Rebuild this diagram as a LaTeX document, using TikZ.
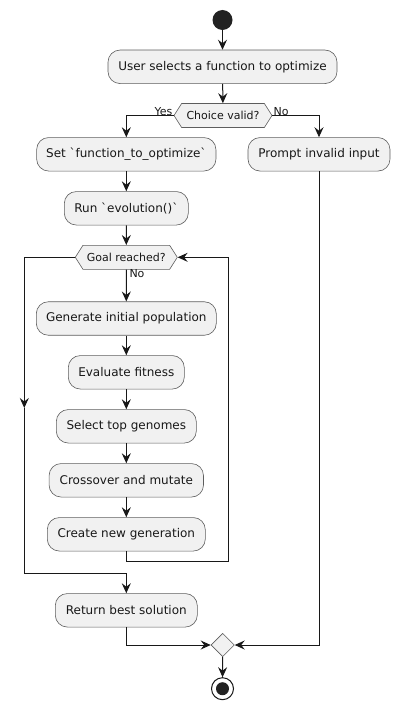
\documentclass[tikz,border=0pt]{standalone}
\usepackage{fontspec}
\setmainfont{DejaVu Sans}
\usetikzlibrary{arrows.meta,shapes.geometric,shapes.symbols}
\definecolor{boxfill}{HTML}{F1F1F1}
\definecolor{ink}{HTML}{181818}
\definecolor{dot}{HTML}{222222}
\tikzset{
  act/.style={draw=ink!70, line width=0.6pt, fill=boxfill, rounded corners=12pt,
    minimum height=33.5pt, inner sep=0pt, font=\fontsize{12}{14}\selectfont, text=ink},
  dec/.style={draw=ink!70, line width=0.6pt, fill=boxfill, shape=signal, signal to=west and east,
    signal pointer angle=115, minimum height=24pt, inner sep=0pt, font=\fontsize{11}{13}\selectfont, text=ink},
  lbl/.style={font=\fontsize{11}{13}\selectfont, text=ink, inner sep=1pt},
  flow/.style={draw=ink, line width=1pt},
  arr/.style={flow, -{Stealth[length=10pt,width=9pt,inset=3.5pt]}},
}
\begin{document}
\begin{tikzpicture}[x=1pt,y=-1pt]
\useasboundingbox (0,0) rectangle (400,709);
\node[circle, fill=dot, minimum size=20pt, inner sep=0pt] (start) at (222.5,20) {};
\node[act, minimum width=229pt] (sel) at (222.5,66.8) {User selects a function to optimize};
\node[dec, minimum width=98pt] (choice) at (223,115.5) {Choice valid?};
\node[act, minimum width=179.3pt] (set) at (126.3,154.3) {Set \textasciigrave function\_to\_optimize\textasciigrave};
\node[act, minimum width=142pt] (prompt) at (319,154.3) {Prompt invalid input};
\node[act, minimum width=124pt] (run) at (126.3,208.3) {Run \textasciigrave evolution()\textasciigrave};
\node[dec, minimum width=102pt] (goal) at (126.3,257.3) {Goal reached?};
\node[act, minimum width=180pt] (gen) at (126.3,318.5) {Generate initial population};
\node[act, minimum width=116pt] (eval) at (126.3,372.3) {Evaluate fitness};
\node[act, minimum width=140pt] (selt) at (126.3,426.3) {Select top genomes};
\node[act, minimum width=154.4pt] (cross) at (126.3,480.3) {Crossover and mutate};
\node[act, minimum width=158pt] (create) at (126.3,534.3) {Create new generation};
\node[act, minimum width=142pt] (ret) at (126.3,610.3) {Return best solution};
\node[diamond, draw=ink!70, line width=0.6pt, fill=boxfill, minimum width=23.4pt, minimum height=23.4pt, inner sep=0pt] (merge) at (222.7,645) {};
\node[circle, draw=ink, line width=1pt, fill=white, minimum size=22pt, inner sep=0pt] (end) at (222.5,688.7) {};
\node[circle, fill=dot, minimum size=13pt, inner sep=0pt] (endin) at (end.center) {};

\node[lbl, anchor=south east] (yes) at ([yshift=-1.5pt]choice.west) {Yes};
\node[lbl, anchor=south west] (no1) at ([yshift=-1.5pt]choice.east) {No};
\node[lbl, anchor=north west] (no2) at ([xshift=2pt,yshift=1pt]goal.south) {No};

\coordinate (lt) at (24.3,257.3);
\coordinate (lmid) at (24.3,408);
\coordinate (lb) at (24.3,573.3);
\coordinate (rb) at (228.3,561);
\coordinate (rmid) at (228.3,413);
\coordinate (rt) at (228.3,257.3);

\draw[arr] (start) -- (sel);
\draw[arr] (sel) -- (choice);
\draw[arr] (choice.west) -| (set.north);
\draw[arr] (choice.east) -| (prompt.north);
\draw[arr] (set) -- (run);
\draw[arr] (run) -- (goal);
\draw[arr] (goal) -- (gen);
\draw[arr] (gen) -- (eval);
\draw[arr] (eval) -- (selt);
\draw[arr] (selt) -- (cross);
\draw[arr] (cross) -- (create);
\draw[flow] (create.south) |- (rb) -- (rmid);
\draw[arr] (rmid) -- (rt) -- (goal.east);
\draw[arr] (goal.west) -- (lt) -- (lmid);
\draw[arr] (lmid) -- (lb) -| (ret.north);
\draw[arr] (ret.south) |- (merge.west);
\draw[arr] (prompt.south) |- (merge.east);
\draw[arr] (merge) -- (end);
\end{tikzpicture}
\end{document}
